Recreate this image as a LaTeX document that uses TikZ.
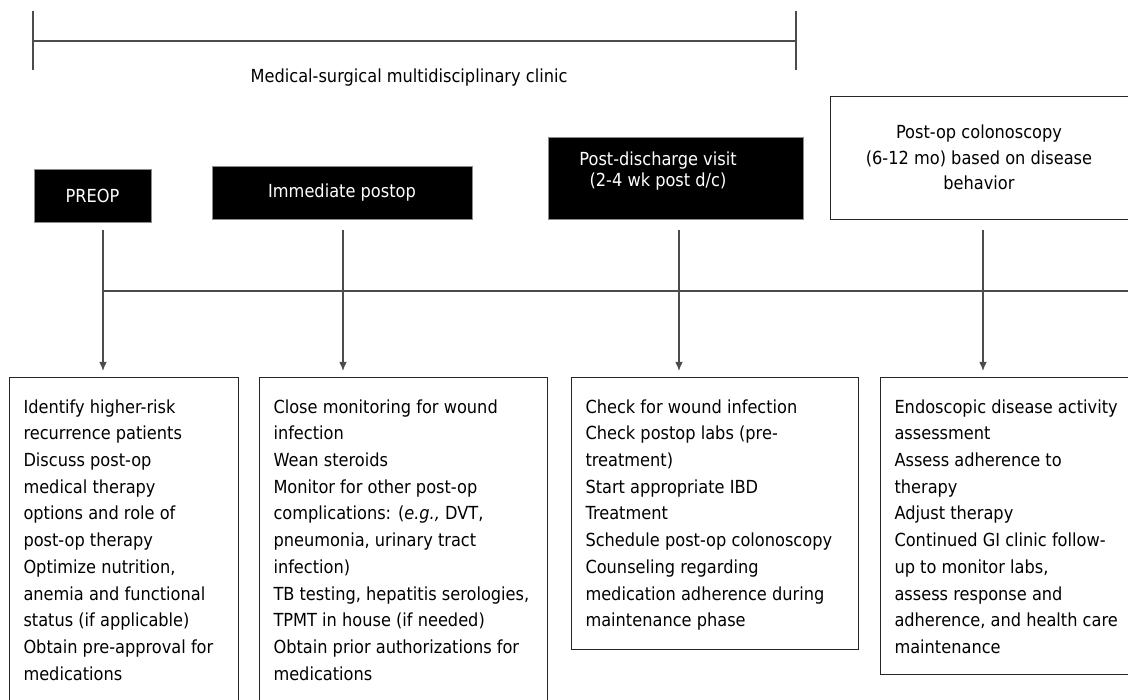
\documentclass[tikz,border=0pt]{standalone}
\usepackage{fontspec}
\setmainfont{DejaVu Sans}[FakeStretch=0.9]
\usetikzlibrary{arrows.meta}

% top-aligned list of actions inside a box
\newcommand{\actionlist}[3]{\parbox[t][#2][t]{#1}{\raggedright\hyphenpenalty=10000\exhyphenpenalty=10000 #3}}

\begin{document}
\begin{tikzpicture}[
    x=1pt, y=-1pt,
    every node/.style={font=\fontsize{18pt}{26.7pt}\selectfont},
    phase/.style={draw=black!45, fill=black, text=white, inner sep=0pt, align=center},
    scopebox/.style={draw=black!85, fill=white, inner sep=0pt, align=center, font=\fontsize{18pt}{25.5pt}\selectfont},
    actbox/.style={draw=black!85, line width=1pt, anchor=north west, inner xsep=14pt, inner ysep=22pt},
    link/.style={draw=black!70, line width=1.1pt},
    arrow/.style={link, -{Latex[length=9pt,width=7.5pt]}, shorten >=6pt}
]
\clip (0,0) rectangle (1128,700);

% Clinic bracket
\draw[link] (33,11) -- (33,70) (796,11) -- (796,70) (33,41) -- (796,41);
\node (clinic) at (409,78) {Medical-surgical multidisciplinary clinic};

% Phases
\node[phase, minimum width=117pt, minimum height=53pt] (preop) at (92.5,195.5) {PREOP};
\node[phase, minimum width=260pt, minimum height=53pt] (postop) at (342,193) {Immediate postop};
\node[phase, minimum width=255pt, minimum height=82pt] (visit) at (675.5,178) {};
\node[text=white, align=center, inner sep=0pt, font=\fontsize{18pt}{21pt}\selectfont] (visittxt) at (658,171) {Post-discharge visit\\(2-4 wk post d/c)};
\node[scopebox, minimum width=298pt, minimum height=123pt] (scope) at (979,157.5) {Post-op colonoscopy\\(6-12 mo) based on disease\\behavior};

% Action boxes
\node[actbox] (act1) at (9,377) {\actionlist{201pt}{296pt}{Identify higher-risk\\
recurrence patients\\
Discuss post-op\\
medical therapy\\
options and role of\\
post-op therapy\\
Optimize nutrition,\\
anemia and functional\\
status (if applicable)\\
Obtain pre-approval for\\
medications}};
\node[actbox] (act2) at (259,377) {\actionlist{260pt}{296pt}{Close monitoring for wound\\
infection\\
Wean steroids\\
Monitor for other post-op\\
complications: (\textit{e.g.,} DVT,\\
pneumonia, urinary tract\\
infection)\\
TB testing, hepatitis serologies,\\
TPMT in house (if needed)\\
Obtain prior authorizations for\\
medications}};
\node[actbox] (act3) at (571,377) {\actionlist{259pt}{228pt}{Check for wound infection\\
Check postop labs (pre-\\
treatment)\\
Start appropriate IBD\\
Treatment\\
Schedule post-op colonoscopy\\
Counseling regarding\\
medication adherence during\\
maintenance phase}};
\node[actbox] (act4) at (880,377) {\actionlist{262pt}{253pt}{Endoscopic disease activity\\
assessment\\
Assess adherence to\\
therapy\\
Adjust therapy\\
Continued GI clinic follow-\\
up to monitor labs,\\
assess response and\\
adherence, and health care\\
maintenance}};

% Drops from the phases
\coordinate (d1) at (103,230);
\coordinate (d2) at (343,230);
\coordinate (d3) at (679,230);
\coordinate (d4) at (983,230);
\coordinate (bus) at (1128,291);

\draw[link] (d1 |- bus) -- (bus);
\draw[arrow] (d1) -- (d1 |- act1.north);
\draw[arrow] (d2) -- (d2 |- act2.north);
\draw[arrow] (d3) -- (d3 |- act3.north);
\draw[arrow] (d4) -- (d4 |- act4.north);

\end{tikzpicture}
\end{document}
